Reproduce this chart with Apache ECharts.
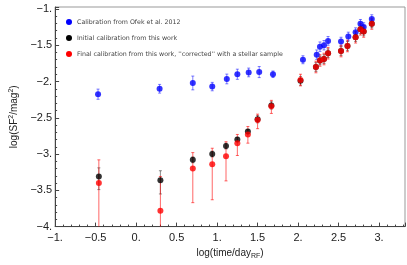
<!DOCTYPE html>
<html><head><meta charset="utf-8">
<script src="https://cdn.jsdelivr.net/npm/echarts@6/dist/echarts.min.js"></script>
<style>html,body{margin:0;padding:0;background:#fff}#c{width:407px;height:265px}</style>
</head><body><div id="c"></div>
<script>
// Blue: Calibration from Ofek et al. 2012
const blueX = [-0.47, 0.29, 0.70, 0.94, 1.12, 1.25, 1.39, 1.52, 1.69, 2.06, 2.23, 2.27, 2.32, 2.37, 2.53, 2.62, 2.71, 2.77, 2.81, 2.91];
const blueY = [-2.175, -2.10, -2.02, -2.07, -1.965, -1.90, -1.875, -1.87, -1.90, -1.70, -1.63, -1.52, -1.50, -1.44, -1.45, -1.38, -1.32, -1.205, -1.25, -1.14];
const blueErr = [0.07, 0.06, 0.095, 0.058, 0.067, 0.07, 0.06, 0.076, 0.045, 0.055, 0.065, 0.065, 0.065, 0.06, 0.06, 0.06, 0.06, 0.06, 0.06, 0.06];
// Black: Initial calibration from this work
const blackX = [-0.46, 0.30, 0.70, 0.94, 1.11, 1.25, 1.38, 1.50, 1.67, 2.03, 2.22, 2.27, 2.32, 2.37, 2.53, 2.61, 2.71, 2.77, 2.81, 2.91];
const blackY = [-3.31, -3.36, -3.08, -3.00, -2.89, -2.80, -2.69, -2.52, -2.33, -1.99, -1.80, -1.71, -1.69, -1.61, -1.58, -1.51, -1.39, -1.28, -1.31, -1.205];
const blackLo = [-3.49, -3.55, -3.12, -3.04, -2.93, -2.83, -2.72, -2.57, -2.38, -2.05, -1.86, -1.77, -1.75, -1.67, -1.64, -1.57, -1.45, -1.34, -1.37, -1.26];
const blackHi = [-3.19, -3.23, -3.04, -2.96, -2.85, -2.77, -2.66, -2.47, -2.28, -1.93, -1.74, -1.65, -1.63, -1.55, -1.52, -1.45, -1.33, -1.22, -1.25, -1.15];
// Red: Final calibration
const redX = [-0.46, 0.30, 0.70, 0.94, 1.11, 1.25, 1.38, 1.50, 1.67, 2.03, 2.22, 2.27, 2.32, 2.37, 2.53, 2.61, 2.71, 2.77, 2.81, 2.91];
const redY = [-3.40, -3.78, -3.20, -3.14, -3.03, -2.85, -2.73, -2.53, -2.34, -1.98, -1.80, -1.71, -1.69, -1.61, -1.58, -1.51, -1.39, -1.28, -1.31, -1.205];
const redLo = [-4.3, -4.3, -3.67, -3.63, -3.37, -3.02, -2.85, -2.65, -2.44, -2.06, -1.88, -1.79, -1.77, -1.69, -1.66, -1.59, -1.47, -1.36, -1.39, -1.28];
const redHi = [-3.08, -3.31, -2.98, -2.92, -2.83, -2.73, -2.62, -2.45, -2.26, -1.90, -1.72, -1.63, -1.61, -1.53, -1.50, -1.43, -1.31, -1.20, -1.23, -1.13];

const names = ['Calibration from Ofek et al. 2012', 'Initial calibration from this work', "Final calibration from this work, ''corrected'' with a stellar sample"];

function fmt(v) {
  const a = Math.abs(v);
  const s = (Math.abs(a - Math.round(a)) < 1e-9) ? Math.round(a) + '.' : String(+a.toFixed(2));
  return (v < -1e-9 ? '\u2212' : '') + s;
}
function errSeries(name, xs, lo, hi, color) {
  return {
    type: 'custom', name: name, clip: true, silent: true, z: 1,
    data: xs.map((x, i) => [x, lo[i], hi[i]]),
    encode: { x: 0, y: [1, 2] },
    renderItem: function (params, api) {
      const x = api.value(0);
      const p1 = api.coord([x, api.value(2)]);
      const p2 = api.coord([x, api.value(1)]);
      const st = { stroke: color, lineWidth: 1 };
      return { type: 'group', children: [
        { type: 'line', shape: { x1: p1[0], y1: p1[1], x2: p2[0], y2: p2[1] }, style: st },
        { type: 'line', shape: { x1: p1[0] - 1.5, y1: p1[1], x2: p1[0] + 1.5, y2: p1[1] }, style: st },
        { type: 'line', shape: { x1: p2[0] - 1.5, y1: p2[1], x2: p2[0] + 1.5, y2: p2[1] }, style: st }
      ]};
    }
  };
}
function ptSeries(name, xs, ys, color, z) {
  return { type: 'scatter', name: name, symbol: 'circle', symbolSize: 6, z: z,
    itemStyle: { color: color }, data: xs.map((x, i) => [x, ys[i]]) };
}
const blueLo = blueY.map((v, i) => v - blueErr[i]);
const blueHi = blueY.map((v, i) => v + blueErr[i]);

const chart = echarts.init(document.getElementById('c'), null, { renderer: 'canvas' });
const axisFont = { fontFamily: 'Liberation Sans, Arial, sans-serif', fontSize: 11, color: '#222' };
chart.setOption({
  animation: false,
  grid: { left: 42, right: 2, top: 7, bottom: 33, show: true, borderColor: '#999', borderWidth: 1 },
  legend: {
    orient: 'vertical', left: 61, top: 13, itemWidth: 6, itemHeight: 6, itemGap: 8,
    icon: 'circle', selectedMode: false,
    textStyle: { fontFamily: 'DejaVu Sans, sans-serif', fontSize: 6.3, color: '#444', lineHeight: 8 },
    data: [{ name: names[0], itemStyle: { color: '#0000ff' } }, { name: names[1], itemStyle: { color: '#000' } }, { name: names[2], itemStyle: { color: '#ff0000' } }]
  },
  xAxis: {
    type: 'value', min: -1, max: 3.32, interval: 0.5,
    name: '{a|log(time/day}{s|RF}{a|)}', nameLocation: 'middle', nameGap: 20,
    nameTextStyle: { rich: { a: { fontFamily: 'Liberation Sans, Arial, sans-serif', fontSize: 10, color: '#222' }, s: { fontFamily: 'Liberation Sans, Arial, sans-serif', fontSize: 7, color: '#222', padding: [6, 0, 0, 0] } } },
    axisLine: { onZero: false, lineStyle: { color: '#444', width: 1 } },
    axisTick: { inside: true, length: 4, lineStyle: { color: '#444' } },
    minorTick: { show: true, splitNumber: 5, length: 2, lineStyle: { color: '#444' } },
    splitLine: { show: false },
    axisLabel: Object.assign({ formatter: fmt, margin: 6, showMaxLabel: false }, axisFont)
  },
  yAxis: {
    type: 'value', min: -4, max: -0.973, interval: 0.5,
    name: '{a|log(SF}{s|2}{a|/mag}{s|2}{a|)}', nameLocation: 'middle', nameGap: 29,
    nameTextStyle: { rich: { a: { fontFamily: 'Liberation Sans, Arial, sans-serif', fontSize: 10, color: '#222' }, s: { fontFamily: 'Liberation Sans, Arial, sans-serif', fontSize: 7, color: '#222', padding: [0, 0, 6, 0] } } },
    axisLine: { onZero: false, lineStyle: { color: '#444', width: 1 } },
    axisTick: { inside: true, length: 4, lineStyle: { color: '#444' } },
    minorTick: { show: true, splitNumber: 5, length: 2, lineStyle: { color: '#444' } },
    splitLine: { show: false },
    axisLabel: Object.assign({ formatter: fmt, margin: 3, showMaxLabel: false }, axisFont)
  },
  series: [
    errSeries(names[0], blueX, blueLo, blueHi, 'rgba(0,0,255,0.5)'),
    errSeries(names[1], blackX, blackLo, blackHi, 'rgba(0,0,0,0.45)'),
    errSeries(names[2], redX, redLo, redHi, 'rgba(255,0,0,0.6)'),
    ptSeries(names[0], blueX, blueY, '#0000ff', 3),
    ptSeries(names[1], blackX, blackY, '#000000', 4),
    ptSeries(names[2], redX, redY, '#ff0000', 5)
  ]
});
</script></body></html>
